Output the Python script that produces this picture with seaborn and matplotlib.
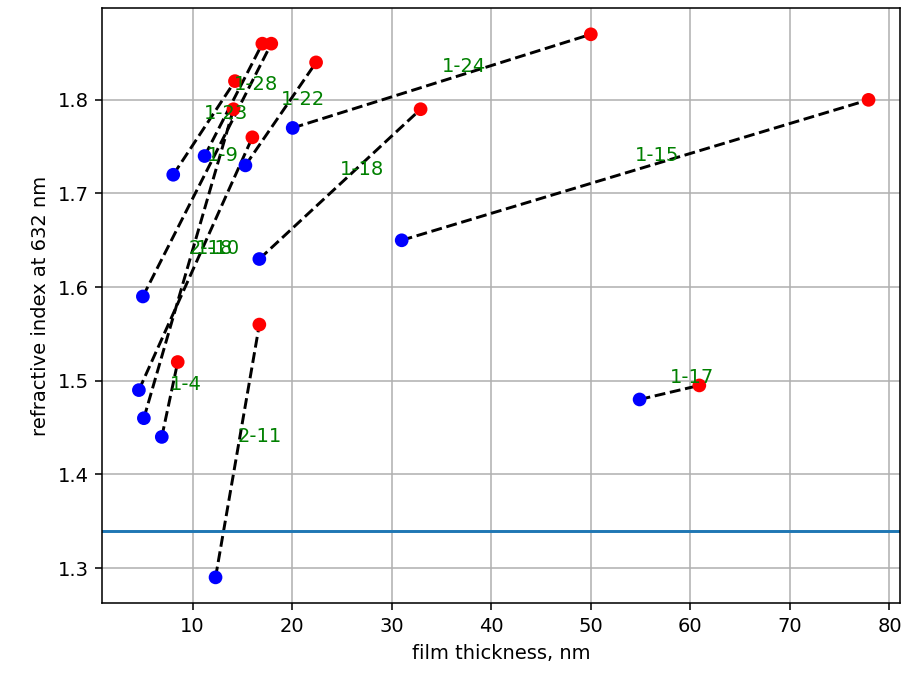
import numpy as np
import pandas as pd
import matplotlib
matplotlib.use("Agg")
import matplotlib.pyplot as plt
import seaborn as sns

# sample name, start point (blue) and end point (red)
samples = ["1-4", "1-9", "1-15", "1-17", "1-18", "1-22",
           "1-23", "1-24", "1-28", "2-11", "2-18", "1-10"]
x_start = [6.9, 5.0, 31.0, 54.9, 16.7, 15.3, 8.05, 20.05, 11.2, 12.3, 5.1, 4.6]
n_start = [1.44, 1.59, 1.65, 1.48, 1.63, 1.73, 1.72, 1.77, 1.74, 1.29, 1.46, 1.49]
x_end = [8.5, 17.9, 77.9, 60.9, 32.9, 22.4, 14.25, 50.0, 17.0, 16.7, 14.1, 16.0]
n_end = [1.52, 1.86, 1.80, 1.495, 1.79, 1.84, 1.82, 1.87, 1.86, 1.56, 1.79, 1.76]

n_reference = 1.34


def build_long():
    rows = []
    for i, s in enumerate(samples):
        rows.append({"sample": s, "stage": "start", "x": x_start[i], "y": n_start[i]})
        rows.append({"sample": s, "stage": "end", "x": x_end[i], "y": n_end[i]})
    return pd.DataFrame(rows)


def main():
    df = build_long()

    dpi = 140.8
    fig = plt.figure(figsize=(901 / dpi, 674 / dpi), dpi=dpi)
    ax = fig.add_axes([0.1135, 0.1053, 0.8855, 0.8827])

    sns.lineplot(data=df, x="x", y="y", units="sample", estimator=None,
                 sort=False, color="k", linestyle="--", lw=1.5, ax=ax)
    sns.scatterplot(data=df, x="x", y="y", hue="stage",
                    palette={"start": "blue", "end": "red"},
                    s=36, linewidth=1, edgecolor="face", legend=False,
                    zorder=3, ax=ax)

    for i, s in enumerate(samples):
        mx = (x_start[i] + x_end[i]) / 2
        my = (n_start[i] + n_end[i]) / 2 + 0.01
        ax.text(mx, my, s, color="green", fontsize=10, zorder=4)

    ax.axhline(n_reference, color="C0", lw=1.5)

    ax.set_xlim(0.92, 81.07)
    ax.set_ylim(1.2626, 1.898)
    ax.grid(True)
    ax.set_xlabel("film thickness, nm")
    ax.set_ylabel("refractive index at 632 nm")

    fig.savefig("out.png", dpi=dpi)
    plt.close(fig)


if __name__ == "__main__":
    main()
